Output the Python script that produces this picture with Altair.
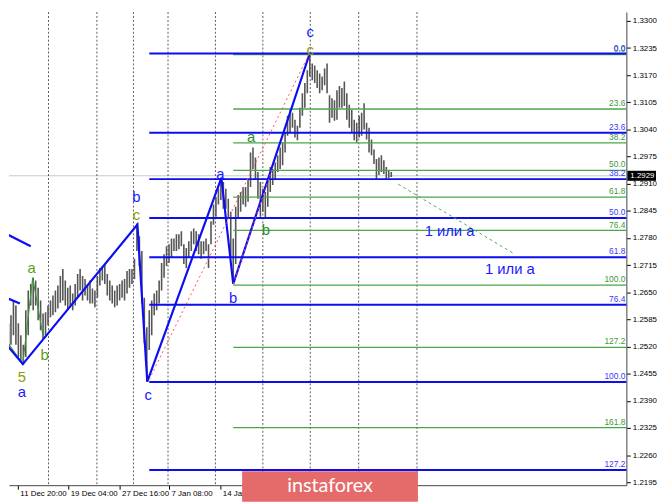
import altair as alt
import pandas as pd

# ---- price bars (H4) left to right ----
highs = [1.2756, 1.2749, 1.2725, 1.2576, 1.2595, 1.2630, 1.2618, 1.2576, 1.2547, 1.2524,
         1.2607, 1.2654, 1.2670, 1.2685, 1.2678, 1.2661, 1.2630, 1.2599, 1.2602, 1.2618,
         1.2630, 1.2642, 1.2654, 1.2666, 1.2689, 1.2706, 1.2678, 1.2661, 1.2666, 1.2647,
         1.2670, 1.2694, 1.2706, 1.2689, 1.2682, 1.2670, 1.2678, 1.2659, 1.2654, 1.2689,
         1.2708, 1.2713, 1.2718, 1.2694, 1.2678, 1.2666, 1.2654, 1.2666, 1.2670, 1.2678,
         1.2682, 1.2701, 1.2706, 1.2706, 1.2730, 1.2815, 1.2784, 1.2749, 1.2637, 1.2566,
         1.2607, 1.2630, 1.2647, 1.2654, 1.2678, 1.2720, 1.2741, 1.2760, 1.2765, 1.2779,
         1.2779, 1.2789, 1.2789, 1.2796, 1.2765, 1.2756, 1.2772, 1.2796, 1.2803, 1.2796,
         1.2789, 1.2772, 1.2772, 1.2779, 1.2765, 1.2820, 1.2860, 1.2879, 1.2898, 1.2924,
         1.2914, 1.2898, 1.2874, 1.2843, 1.2779, 1.2855, 1.2883, 1.2890, 1.2902, 1.2902,
         1.2921, 1.2985, 1.2997, 1.2973, 1.2938, 1.2914, 1.2898, 1.2890, 1.2921, 1.2950,
         1.2945, 1.2961, 1.2978, 1.2997, 1.3009, 1.3032, 1.3073, 1.3087, 1.3080, 1.3063,
         1.3049, 1.3092, 1.3127, 1.3151, 1.3182, 1.3217, 1.3198, 1.3193, 1.3182, 1.3174,
         1.3167, 1.3186, 1.3198, 1.3122, 1.3115, 1.3110, 1.3134, 1.3144, 1.3139, 1.3155,
         1.3127, 1.3099, 1.3087, 1.3063, 1.3056, 1.3073, 1.3080, 1.3103, 1.3056, 1.3044,
         1.3016, 1.2992, 1.2969, 1.2973, 1.2978, 1.2966, 1.2950, 1.2943, 1.2938]
lows = [1.2614, 1.2618, 1.2505, 1.2512, 1.2524, 1.2547, 1.2524, 1.2495, 1.2484, 1.2476,
        1.2495, 1.2547, 1.2618, 1.2607, 1.2618, 1.2583, 1.2559, 1.2536, 1.2547, 1.2571,
        1.2590, 1.2595, 1.2602, 1.2611, 1.2625, 1.2630, 1.2618, 1.2607, 1.2614, 1.2607,
        1.2618, 1.2637, 1.2654, 1.2630, 1.2642, 1.2630, 1.2623, 1.2623, 1.2614, 1.2637,
        1.2666, 1.2678, 1.2670, 1.2642, 1.2630, 1.2623, 1.2614, 1.2618, 1.2630, 1.2637,
        1.2630, 1.2647, 1.2661, 1.2670, 1.2682, 1.2749, 1.2713, 1.2623, 1.2528, 1.2436,
        1.2512, 1.2547, 1.2595, 1.2607, 1.2623, 1.2654, 1.2685, 1.2713, 1.2720, 1.2732,
        1.2749, 1.2749, 1.2753, 1.2760, 1.2718, 1.2708, 1.2732, 1.2749, 1.2765, 1.2749,
        1.2741, 1.2730, 1.2741, 1.2749, 1.2708, 1.2765, 1.2812, 1.2831, 1.2860, 1.2871,
        1.2850, 1.2850, 1.2827, 1.2732, 1.2670, 1.2718, 1.2827, 1.2843, 1.2860, 1.2855,
        1.2867, 1.2902, 1.2945, 1.2921, 1.2874, 1.2831, 1.2843, 1.2827, 1.2855, 1.2890,
        1.2907, 1.2921, 1.2938, 1.2945, 1.2954, 1.2985, 1.3025, 1.3032, 1.3044, 1.3021,
        1.3014, 1.3044, 1.3073, 1.3092, 1.3127, 1.3167, 1.3158, 1.3151, 1.3139, 1.3127,
        1.3134, 1.3146, 1.3127, 1.3056, 1.3068, 1.3061, 1.3063, 1.3092, 1.3092, 1.3096,
        1.3063, 1.3044, 1.3032, 1.3014, 1.3009, 1.3021, 1.3025, 1.3040, 1.3016, 1.2985,
        1.2978, 1.2957, 1.2921, 1.2931, 1.2938, 1.2933, 1.2921, 1.2924, 1.2926]

last_price = 1.2929

# ---- time axis (bar positions) ----
time_ticks = [6.8, 27.2, 48, 68, 88.8]
time_labels = ["11 Dec 20:00", "19 Dec 04:00", "27 Dec 16:00", "7 Jan 08:00", "14 Jan 16:00"]
separators = [19.2, 38.8, 53.6, 67.6, 86.8, 106, 125.2, 144.8, 168.4]

price_ticks = [1.2195, 1.2260, 1.2325, 1.2390, 1.2455, 1.2520, 1.2585, 1.2650, 1.2715,
               1.2780, 1.2845, 1.2910, 1.2975, 1.3040, 1.3105, 1.3170, 1.3235, 1.3300]

# ---- fibonacci grids ----
blue_fib_names = ["0.0", "23.6", "38.2", "50.0", "61.8", "76.4", "100.0", "127.2"]
blue_fib_prices = [1.3222, 1.3032, 1.2921, 1.2828, 1.2734, 1.2620, 1.2435, 1.2224]
blue_fib_start = 60
green_fib_names = ["0.0", "23.6", "38.2", "50.0", "61.8", "76.4", "100.0", "127.2", "161.8"]
green_fib_prices = [1.3219, 1.3089, 1.3008, 1.2942, 1.2878, 1.2798, 1.2667, 1.2518, 1.2326]
green_fib_start = 94

# ---- wave markup ----
blue_wave_x = [0, 8.8, 55.2, 59.2, 89.2, 94, 124.8]
blue_wave_y = [1.2540, 1.2478, 1.2812, 1.2436, 1.2924, 1.2670, 1.3219]
blue_seg1_x = [0, 12]
blue_seg1_y = [1.2796, 1.2760]
blue_seg2_x = [0, 7.6]
blue_seg2_y = [1.2642, 1.2623]
green_wave_x = [0, 8.8, 12.8, 17.2, 55.2]
green_wave_y = [1.2552, 1.2478, 1.2685, 1.2538, 1.2812]
red_dot1_x = [60, 124.8]
red_dot1_y = [1.2441, 1.3222]
red_dot2_x = [94, 110]
red_dot2_y = [1.2670, 1.2950]
proj_x = [160.8, 207.2]
proj_y = [1.2909, 1.2744]

wave_text = ["c", "c", "a", "b", "a", "b", "b", "c", "c", "5", "a", "a", "b", "1 или а", "1 или а"]
wave_text_x = [125.2, 125.2, 101.2, 107.2, 88.8, 94, 54.8, 54.8, 59.6, 8.4, 8.4, 12.4, 17.6, 181.6, 206]
wave_text_y = [1.3274, 1.3231, 1.3021, 1.2798, 1.2933, 1.2637, 1.2879, 1.2836, 1.2403, 1.2448,
               1.2412, 1.2708, 1.2500, 1.2796, 1.2706]
wave_text_col = ["#1a1aff", "#8a9e00", "#2e8b2e", "#2e8b2e", "#1a1aff", "#1a1aff", "#1a1aff",
                 "#8a9e00", "#1a1aff", "#8a9e00", "#1a1aff", "#5a9e1a", "#5a9e1a", "#1a1aff", "#1a1aff"]

X_MIN, X_MAX = 3.2, 253.2
Y_MIN, Y_MAX = 1.21879, 1.33213

xs = alt.Scale(domain=[X_MIN, X_MAX], nice=False, zero=False)
ys = alt.Scale(domain=[Y_MIN, Y_MAX], nice=False, zero=False)

label_expr = " : ".join(f"datum.value == {v} ? '{t}'" for v, t in zip(time_ticks, time_labels)) + " : ''"
x_axis = alt.Axis(values=time_ticks, labelExpr=label_expr, title=None, grid=False,
                  labelAlign="left", labelBaseline="top", labelOffset=2, labelPadding=0,
                  tickSize=4, labelFlush=False)
y_axis = alt.Axis(orient="right", values=price_ticks, format=".4f", title=None, grid=False,
                  tickSize=4, labelPadding=2)


def X(field, **kw):
    return alt.X(field, type="quantitative", scale=xs, axis=x_axis, **kw)


def Y(field, **kw):
    return alt.Y(field, type="quantitative", scale=ys, axis=y_axis, **kw)


bars = pd.DataFrame({"i": list(range(len(highs))), "hi": highs, "lo": lows})


def poly(xv, yv):
    return pd.DataFrame({"x": xv, "y": yv, "k": list(range(len(xv)))})


def fib_df(names, prices, start):
    return pd.DataFrame({"name": names, "p": prices, "x0": start, "x1": X_MAX})


price_line = alt.Chart(pd.DataFrame({"p": [last_price], "x0": [X_MIN], "x1": [X_MAX]})).mark_rule(
    color="#c8c8c8", strokeWidth=1).encode(x=X("x0"), x2="x1", y=Y("p"))

grid = alt.Chart(pd.DataFrame({"x": separators})).mark_rule(
    color="#333333", strokeWidth=0.8, strokeDash=[2, 2]).encode(x=X("x"))

bar_layer = alt.Chart(bars).mark_rule(color="#555555", strokeWidth=1.6, clip=True).encode(
    x=X("i"), y=Y("hi"), y2="lo")

green_fib = fib_df(green_fib_names, green_fib_prices, green_fib_start)
blue_fib = fib_df(blue_fib_names, blue_fib_prices, blue_fib_start)

green_lines = alt.Chart(green_fib).mark_rule(color="#4aa64a", strokeWidth=1.3).encode(
    x=X("x0"), x2="x1", y=Y("p"))
blue_lines = alt.Chart(blue_fib).mark_rule(color="#0d0df0", strokeWidth=2).encode(
    x=X("x0"), x2="x1", y=Y("p"))

fib_font = dict(font="Liberation Sans", fontSize=8.5, align="right", baseline="bottom", dx=-1, dy=-1)
green_txt = alt.Chart(green_fib).mark_text(color="#3c9a3c", **fib_font).encode(
    x=X("x1"), y=Y("p"), text="name:N")
blue_txt = alt.Chart(blue_fib).mark_text(color="#3a3aff", **fib_font).encode(
    x=X("x1"), y=Y("p"), text="name:N")


def wave_line(df, **mk):
    return alt.Chart(df).mark_line(clip=True, **mk).encode(x=X("x"), y=Y("y"), order="k:Q")


green_wave = wave_line(poly(green_wave_x, green_wave_y), color="#3a9a3a", strokeWidth=1.1)
blue_wave = wave_line(poly(blue_wave_x, blue_wave_y), color="#0d0df5", strokeWidth=2.2)
blue_s1 = wave_line(poly(blue_seg1_x, blue_seg1_y), color="#0d0df5", strokeWidth=2.2)
blue_s2 = wave_line(poly(blue_seg2_x, blue_seg2_y), color="#0d0df5", strokeWidth=2.2)
red1 = wave_line(poly(red_dot1_x, red_dot1_y), color="#ff5050", strokeWidth=1, strokeDash=[2, 3])
red2 = wave_line(poly(red_dot2_x, red_dot2_y), color="#ff5050", strokeWidth=1, strokeDash=[2, 3])
proj = wave_line(poly(proj_x, proj_y), color="#4caf50", strokeWidth=1, strokeDash=[3, 3])

labels = pd.DataFrame({"t": wave_text, "x": wave_text_x, "y": wave_text_y, "c": wave_text_col})
label_layer = alt.Chart(labels).mark_text(font="Liberation Sans", fontSize=15).encode(
    x=X("x"), y=Y("y"), text="t:N", color=alt.Color("c:N", scale=None))

# watermark box under the time axis
logo = pd.DataFrame({"x0": [97.6], "x1": [168.8], "y0": [1.2221], "y1": [1.2148],
                     "xm": [133.2], "ym": [1.2185], "t": ["instaforex"]})
logo_box = alt.Chart(logo).mark_rect(color="#e56b6b").encode(
    x=X("x0"), x2="x1", y=Y("y0"), y2="y1")
logo_txt = alt.Chart(logo).mark_text(font="Lato", fontSize=20, color="white").encode(
    x=X("xm"), y=Y("ym"), text="t:N")

# current price tag on the price axis
tag = pd.DataFrame({"p": [last_price], "top": [1.2941], "bot": [1.2917], "t": ["1.2929"]})
tag_box = alt.Chart(tag).mark_rect(color="black").encode(
    x=alt.value(626), x2=alt.value(655), y=Y("top"), y2="bot")
tag_txt = alt.Chart(tag).mark_text(font="Liberation Sans", fontSize=8, color="white",
                                   align="left").encode(x=alt.value(629), y=Y("p"), text="t:N")

chart = alt.layer(
    price_line, grid, bar_layer, green_lines, blue_lines, green_txt, blue_txt,
    green_wave, blue_wave, blue_s1, blue_s2, red1, red2, proj, label_layer,
    logo_box, logo_txt, tag_box, tag_txt,
).properties(
    width=625, height=479, padding={"left": 0, "top": 0, "right": 0, "bottom": 0},
    background="white",
).configure_view(strokeWidth=0).configure_axis(
    labelFont="Liberation Sans", labelFontSize=8, labelColor="black",
    tickColor="black", domainColor="#444444",
)

chart.save("out.html", embed_options={"renderer": "svg", "actions": False})
